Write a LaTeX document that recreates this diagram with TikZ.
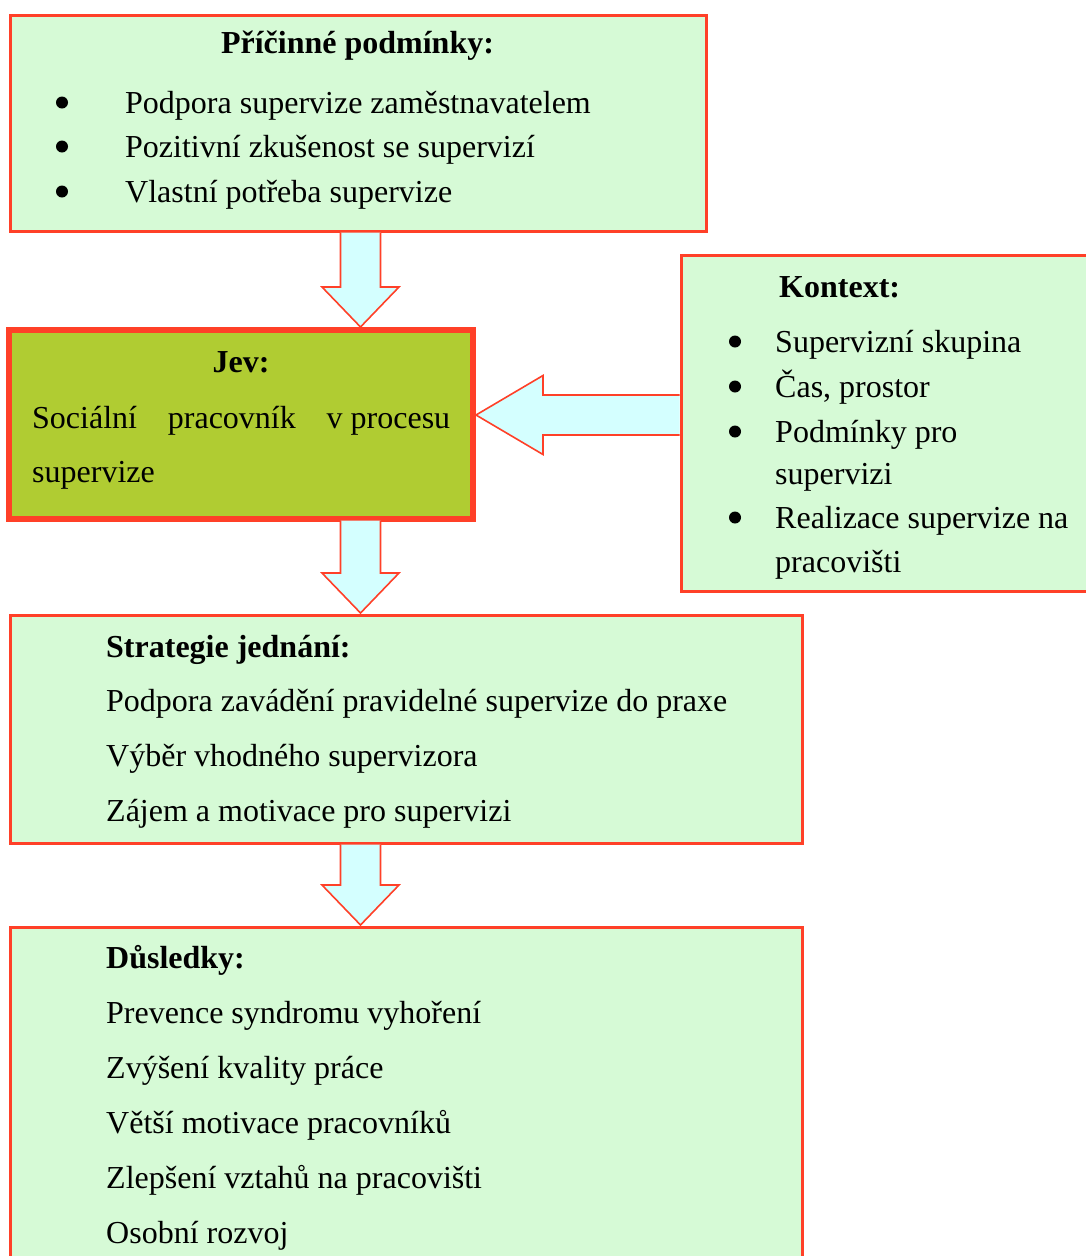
\documentclass[tikz,border=0pt]{standalone}
\usepackage{fontspec}
\setmainfont{Liberation Serif}
\usetikzlibrary{calc}
\definecolor{redb}{RGB}{255,64,40}
\definecolor{lgreen}{RGB}{214,250,214}
\definecolor{jevgreen}{RGB}{176,204,50}
\definecolor{lcyan}{RGB}{212,255,255}
\tikzset{
  box/.style={draw=redb, line width=3pt, fill=lgreen, rectangle, inner sep=0pt, outer sep=0pt, anchor=north west},
  jevbox/.style={box, fill=jevgreen, line width=6pt},
  txt/.style={anchor=base west, inner sep=0pt, font=\fontsize{32}{38}\selectfont},
  ttl/.style={anchor=base west, inner sep=0pt, font=\fontsize{32}{38}\selectfont\bfseries},
  ttlc/.style={anchor=base, inner sep=0pt, font=\fontsize{32}{38}\selectfont\bfseries},
  blt/.style={circle, fill=black, draw=none, inner sep=0pt, minimum size=12pt},
  barrow/.style={draw=redb, line width=1.6pt, fill=lcyan, line join=miter}
}
\newcommand{\vblockarrow}[3]{%
  \draw[barrow] ($(#1.south -| ax)+(-20,1.5)$) -- ($(#2.north -| ax)+(-20,-40-#3)$)
    -- ($(#2.north -| ax)+(-38.5,-40-#3)$) -- ($(#2.north -| ax)+(0,-#3)$)
    -- ($(#2.north -| ax)+(38.5,-40-#3)$) -- ($(#2.north -| ax)+(20,-40-#3)$)
    -- ($(#1.south -| ax)+(20,1.5)$);}
\begin{document}
\begin{tikzpicture}[x=1pt,y=-1pt]
\useasboundingbox (0,0) rectangle (1086,1256);
\clip (0,0) rectangle (1086,1256);
\fill[white] (0,0) rectangle (1086,1256);
\coordinate (ax) at (360.5,0);
\coordinate (ay) at (0,415);
% boxes
\node[box, minimum width=696pt, minimum height=216pt] (pric) at (10,15) {};
\node[jevbox, minimum width=464pt, minimum height=189pt] (jev) at (9,330) {};
\node[box, minimum width=420pt, minimum height=336pt] (ctx) at (681,255) {};
\node[box, minimum width=792pt, minimum height=228pt] (strat) at (10,615) {};
\node[box, minimum width=792pt, minimum height=400pt] (dus) at (10,927) {};
% arrows
\vblockarrow{pric}{jev}{3}
\vblockarrow{jev}{strat}{2}
\vblockarrow{strat}{dus}{2}
\draw[barrow] ($(ctx.west |- ay)+(-1.5,-20)$) -- ($(jev.east |- ay)+(70,-20)$)
  -- ($(jev.east |- ay)+(70,-39.5)$) -- ($(jev.east |- ay)+(3,0)$)
  -- ($(jev.east |- ay)+(70,39.5)$) -- ($(jev.east |- ay)+(70,20)$)
  -- ($(ctx.west |- ay)+(-1.5,20)$);
% Box 1
\node[ttlc] (p0) at (357.5,53) {Příčinné podmínky:};
\node[blt] (pb1) at (62,102.5) {};
\node[txt] (p1) at (125,113) {Podpora supervize zaměstnavatelem};
\node[blt] (pb2) at (62,146.5) {};
\node[txt] (p2) at (125,157) {Pozitivní zkušenost se supervizí};
\node[blt] (pb3) at (62,191.5) {};
\node[txt] (p3) at (125,202) {Vlastní potřeba supervize};
% Jev
\node[ttlc] (j0) at (241,372) {Jev:};
\node[txt] (j1) at (32,428) {\hbox to 418pt{Sociální\hfill pracovník\hfill v procesu}};
\node[txt] (j2) at (32,482) {supervize};
% Kontext
\node[ttl] (k0) at (779,297) {Kontext:};
\node[blt] (kb1) at (735,341.5) {};
\node[txt] (k1) at (775,352) {Supervizní skupina};
\node[blt] (kb2) at (735,386.5) {};
\node[txt] (k2) at (775,397) {Čas, prostor};
\node[blt] (kb3) at (735,431.5) {};
\node[txt] (k3) at (775,442) {Podmínky pro};
\node[txt] (k3b) at (775,484) {supervizi};
\node[blt] (kb4) at (735,517.5) {};
\node[txt] (k4) at (775,528) {Realizace supervize na};
\node[txt] (k4b) at (775,572) {pracovišti};
% Strategie
\node[ttl] (s0) at (106,657) {Strategie jednání:};
\node[txt] (s1) at (106,711) {Podpora zavádění pravidelné supervize do praxe};
\node[txt] (s2) at (106,766) {Výběr vhodného supervizora};
\node[txt] (s3) at (106,821) {Zájem a motivace pro supervizi};
% Dusledky
\node[ttl] (d0) at (106,968) {Důsledky:};
\node[txt] (d1) at (106,1023) {Prevence syndromu vyhoření};
\node[txt] (d2) at (106,1078) {Zvýšení kvality práce};
\node[txt] (d3) at (106,1133) {Větší motivace pracovníků};
\node[txt] (d4) at (106,1188) {Zlepšení vztahů na pracovišti};
\node[txt] (d5) at (106,1243) {Osobní rozvoj};
\end{tikzpicture}
\end{document}
